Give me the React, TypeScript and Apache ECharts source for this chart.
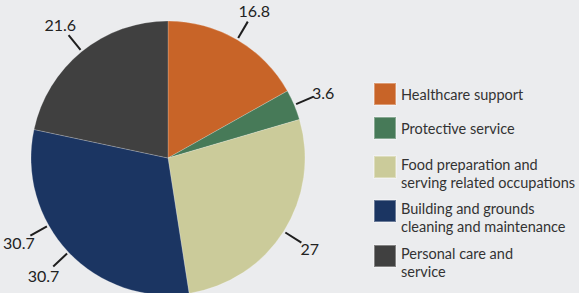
import React, { useEffect, useRef } from 'react';
import * as echarts from 'echarts';

const categories = [
  'Healthcare support',
  'Protective service',
  'Food preparation and serving related occupations',
  'Building and grounds cleaning and maintenance',
  'Personal care and service',
];
const legendLines = [
  ['Healthcare support'],
  ['Protective service'],
  ['Food preparation and', 'serving related occupations'],
  ['Building and grounds', 'cleaning and maintenance'],
  ['Personal care and', 'service'],
];
const values = [16.8, 3.6, 27, 30.7, 21.6];
const colors = ['#c86428', '#477a58', '#cbcb9a', '#1b3562', '#404040'];
const legendTops = [82, 116, 143, 187, 232];
const duplicateLabelIndex = 3;

const FONT = 'Lato';

const labelLayout = (params: any) => {
  const pts = params.labelLinePoints;
  if (!pts || pts.length < 2) return {};
  const [x0, y0] = pts[0];
  const [x1, y1] = pts[1];
  const dx = x1 - x0;
  const dy = y1 - y0;
  const len = Math.hypot(dx, dy) || 1;
  const ux = dx / len;
  const uy = dy / len;
  const w = params.labelRect.width;
  const h = params.labelRect.height;
  const off = 22 + Math.abs(ux) * w * 0.3 + Math.abs(uy) * h / 2;
  return {
    x: x0 + ux * off,
    y: y0 + uy * off,
    align: 'center',
    verticalAlign: 'middle',
    labelLinePoints: [
      [x0 + ux * 2, y0 + uy * 2],
      [x0 + ux * 21, y0 + uy * 21],
    ],
  };
};

export default function App() {
  const ref = useRef<HTMLDivElement>(null);
  useEffect(() => {
    if (!ref.current) return;
    const chart = echarts.init(ref.current, undefined, { renderer: 'svg' });
    const labelCommon = {
      show: true,
      position: 'outside',
      formatter: '{c}',
      color: '#222',
      fontFamily: FONT,
      fontSize: 16,
    };
    const lineCommon = {
      show: true,
      length: 15,
      length2: 0,
      lineStyle: { color: '#1e1e1e', width: 2 },
    };
    const textBase = { fontFamily: FONT, fontSize: 14.5, color: '#333', lineHeight: 18 };
    chart.setOption({
      animation: false,
      backgroundColor: '#ebecee',
      legend: categories.map((name, i) => ({
        data: [name],
        left: 373,
        top: legendTops[i],
        padding: 0,
        orient: 'vertical',
        itemWidth: 22,
        itemHeight: 22,
        icon: 'rect',
        selectedMode: false,
        formatter: () =>
          legendLines[i].length > 1
            ? '{gap|}\n' + legendLines[i].map((l) => '{t|' + l + '}').join('\n')
            : '{t|' + legendLines[i][0] + '}',
        textStyle: {
          ...textBase,
          rich: {
            t: { ...textBase },
            gap: { height: 12, lineHeight: 12, fontSize: 1 },
          },
        },
      })),
      series: [
        {
          type: 'pie',
          center: [168, 158],
          radius: 137,
          startAngle: 90,
          clockwise: true,
          avoidLabelOverlap: false,
          silent: true,
          itemStyle: { borderColor: 'rgba(255,255,255,0.35)', borderWidth: 0.6 },
          label: labelCommon,
          labelLine: lineCommon,
          labelLayout,
          data: categories.map((name, i) => ({
            name,
            value: values[i],
            itemStyle: { color: colors[i] },
          })),
        },
        {
          type: 'pie',
          center: [168, 158],
          radius: 137,
          startAngle: 76,
          clockwise: true,
          avoidLabelOverlap: false,
          silent: true,
          z: 1,
          itemStyle: { color: 'rgba(0,0,0,0)', borderWidth: 0 },
          label: labelCommon,
          labelLine: lineCommon,
          labelLayout,
          data: categories.map((name, i) => ({
            name,
            value: values[i],
            label: { show: i === duplicateLabelIndex },
            labelLine: { show: i === duplicateLabelIndex },
          })),
        },
      ],
    });
    return () => chart.dispose();
  }, []);
  return (
    <div
      ref={ref}
      style={{ position: 'fixed', left: 0, top: 0, width: 579, height: 293 }}
    />
  );
}
